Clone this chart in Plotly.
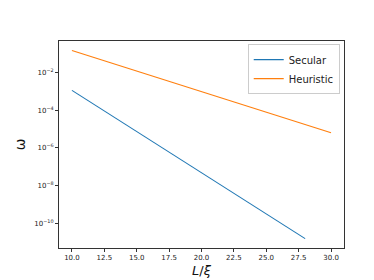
import plotly.graph_objects as go

# data
secular_x = [10.0, 15.0, 20.0, 25.0, 28.0]
secular_y = [1.1e-3, 7.3e-6, 4.9e-8, 3.3e-10, 1.6e-11]
heuristic_x = [10.0, 15.0, 20.0, 25.0, 30.0]
heuristic_y = [0.14, 0.0115, 9.4e-4, 7.8e-5, 6.3e-6]

x_ticks = [10.0, 12.5, 15.0, 17.5, 20.0, 22.5, 25.0, 27.5, 30.0]
x_tick_labels = ["10.0", "12.5", "15.0", "17.5", "20.0", "22.5", "25.0", "27.5", "30.0"]
y_ticks = [1e-2, 1e-4, 1e-6, 1e-8, 1e-10]
y_tick_labels = ["10<sup>−2</sup>", "10<sup>−4</sup>", "10<sup>−6</sup>", "10<sup>−8</sup>", "10<sup>−10</sup>"]

fig = go.Figure()
fig.add_trace(go.Scatter(x=secular_x, y=secular_y, mode="lines", name="Secular",
                         line=dict(color="#1f77b4", width=1.1)))
fig.add_trace(go.Scatter(x=heuristic_x, y=heuristic_y, mode="lines", name="Heuristic",
                         line=dict(color="#ff7f0e", width=1.1)))

axis_common = dict(showline=True, linecolor="#333333", linewidth=1, mirror=True,
                   ticks="outside", ticklen=3, tickwidth=0.7, tickcolor="#333333",
                   showgrid=False, zeroline=False,
                   tickfont=dict(family="DejaVu Sans", size=7, color="#222222"))

fig.update_layout(
    width=374, height=280,
    margin=dict(l=46, r=38, t=33, b=36),
    paper_bgcolor="white", plot_bgcolor="white",
    font=dict(family="DejaVu Sans"),
    xaxis=dict(range=[9.0, 31.0], tickvals=x_ticks, ticktext=x_tick_labels,
               title=dict(text="<i>L</i>/<i>ξ</i>", font=dict(size=13, color="#111111"), standoff=4),
               **axis_common),
    yaxis=dict(type="log", range=[-11.29, -0.35], tickvals=y_ticks, ticktext=y_tick_labels,
               title=dict(text="ω", font=dict(size=14, color="#111111"), standoff=5),
               **axis_common),
    legend=dict(x=0.985, y=0.985, xanchor="right", yanchor="top",
                bgcolor="rgba(255,255,255,0.9)", bordercolor="#cccccc", borderwidth=1,
                font=dict(size=10, color="#222222"), tracegroupgap=0, itemwidth=30),
    showlegend=True,
)

fig.write_html("out.html")
